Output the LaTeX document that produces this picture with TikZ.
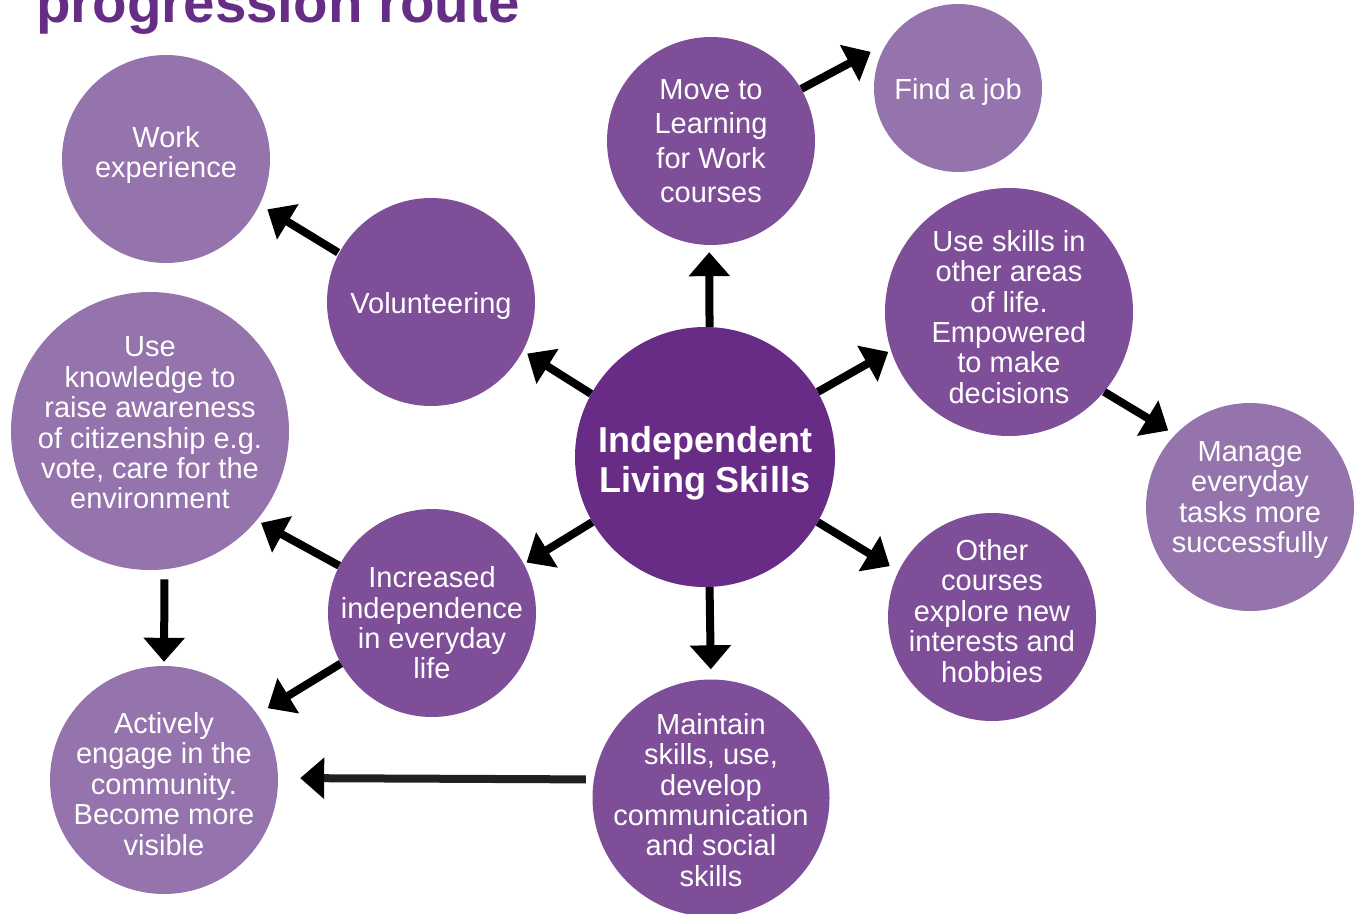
\documentclass[tikz,border=0pt]{standalone}
\usepackage{fontspec}
\setmainfont{Liberation Sans}
\usetikzlibrary{arrows.meta}
\definecolor{cdark}{HTML}{682C87}
\definecolor{cmid}{HTML}{7E4F98}
\definecolor{clight}{HTML}{9574AD}
\definecolor{ctitle}{HTML}{662D87}
\definecolor{cgray}{HTML}{231F20}
\begin{document}
\begin{tikzpicture}[x=1pt,y=-1pt,
  bub/.style={circle, inner sep=0pt},
  midb/.style={bub, fill=cmid},
  lightb/.style={bub, fill=clight},
  lbl/.style={inner sep=0pt, text=white, align=center, font=\fontsize{29}{30.4}\selectfont},
  arr/.style={line width=8pt, black, -{Triangle[length=24pt,width=40pt]}}]
\useasboundingbox (0,0) rectangle (1354,913);
\clip (0,0) rectangle (1354,913);
% title
\node[anchor=base west, inner sep=0pt, text=ctitle, font=\bfseries\fontsize{56.5}{60}\selectfont] (title) at (36,22) {progression route};
% bubbles
\node[bub, fill=cdark, minimum size=260pt,
  label={[lbl, yshift=-6pt, font=\bfseries\fontsize{36}{40}\selectfont]center:Independent\\Living Skills}] (ils) at (705,457) {};
\node[midb, minimum size=208pt,
  label={[lbl, font=\fontsize{29}{34.5}\selectfont]center:Move to\\Learning\\for Work\\courses}] (move) at (711,141) {};
\node[lightb, minimum size=168pt,
  label={[lbl, yshift=-4pt]center:Find a job}] (job) at (958,88) {};
\node[lightb, minimum size=208pt,
  label={[lbl, yshift=4pt]center:Work\\experience}] (work) at (166,159) {};
\node[midb, minimum size=208pt,
  label={[lbl, yshift=-4pt]center:Volunteering}] (vol) at (431,302) {};
\node[lightb, minimum size=278pt,
  label={[lbl, yshift=8pt]center:Use\\knowledge to\\raise awareness\\of citizenship e.g.\\vote, care for the\\environment}] (know) at (150,431) {};
\node[midb, minimum size=248pt,
  label={[lbl, yshift=-5pt]center:Use skills in\\other areas\\of life.\\Empowered\\to make\\decisions}] (skills) at (1009,312) {};
\node[lightb, minimum size=208pt,
  label={[lbl, yshift=7pt]center:Manage\\everyday\\tasks more\\successfully}] (manage) at (1250,507) {};
\node[midb, minimum size=208pt,
  label={[lbl, yshift=-10pt]center:Increased\\independence\\in everyday\\life}] (incr) at (432,613) {};
\node[midb, minimum size=208pt,
  label={[lbl, yshift=6pt]center:Other\\courses\\explore new\\interests and\\hobbies}] (other) at (992,617) {};
\node[lightb, minimum size=228pt,
  label={[lbl, yshift=-4pt]center:Actively\\engage in the\\community.\\Become more\\visible}] (act) at (164,780) {};
\node[midb, minimum size=237pt,
  label={[lbl, yshift=-2pt]center:Maintain\\skills, use,\\develop\\communication\\and social\\skills}] (maint) at (711,798) {};
% arrows
\draw[arr, shorten >=7pt] (ils.88) -- (move.269);
\draw[arr, shorten >=18pt] (move.30) -- (job.148);
\draw[arr, shorten <=1pt, shorten >=9pt] (vol.152) -- (work.334);
\draw[arr, shorten >=5pt] (ils.151) -- (vol.332);
\draw[arr, shorten >=3pt] (ils.30) -- (skills.198);
\draw[arr, shorten >=8pt] (skills.320) -- (manage.136);
\draw[arr, shorten >=10pt] (ils.330) -- (other.154);
\draw[arr, shorten >=10pt] (ils.272) -- (maint.90);
\draw[arr, shorten >=3pt] (ils.210) -- (incr.28);
\draw[arr, shorten >=5pt] (incr.153) -- (know.320);
\draw[arr, shorten >=12pt] (incr.209) -- (act.35);
\draw[arr, shorten <=10pt, shorten >=4pt] (know.276) -- (act.90);
\draw[line width=8pt, cgray, -{Triangle[length=24pt,width=40pt,color=black]}, shorten <=8pt, shorten >=22pt] (maint.171) -- (act.1);
\end{tikzpicture}
\end{document}
